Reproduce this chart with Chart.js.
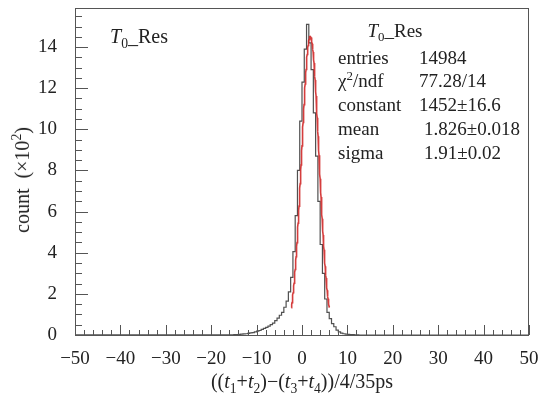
<!DOCTYPE html>
<html>
<head>
<meta charset="utf-8">
<script src="https://cdn.jsdelivr.net/npm/chart.js@4.4.1/dist/chart.umd.min.js"></script>
<style>
  html, body { margin: 0; padding: 0; background: #fff; }
  #wrap { position: relative; width: 541px; height: 398px; font-family: 'Liberation Serif', 'Times New Roman', serif; color: #222; }
  #chart { position: absolute; left: 0; top: 0; }
  .txt { position: absolute; font-size: 19px; line-height: 1; white-space: nowrap; }
  .txt sub, .txt sup { font-size: 68%; line-height: 0; }
  .c { transform: translate(-50%, -50%); }
  #ytitle { transform: translate(-50%, -50%) rotate(-90deg); }
</style>
</head>
<body>
<div id="wrap">
  <canvas id="chart" width="541" height="398"></canvas>

  <div class="txt" style="left:110px; top:26px; font-size:20px;"><i>T</i><sub>0</sub>_Res</div>

  <!-- fit statistics -->
  <div class="txt c" style="left:395px; top:30px;"><i>T</i><sub>0</sub>_Res</div>
  <div class="txt" style="left:338px; top:48px;">entries</div>
  <div class="txt" style="left:419px; top:48px;" id="st-entries"></div>
  <div class="txt" style="left:338px; top:71px;">χ<sup>2</sup>/ndf</div>
  <div class="txt" style="left:419px; top:71px;" id="st-chi2"></div>
  <div class="txt" style="left:338px; top:95px;">constant</div>
  <div class="txt" style="left:419px; top:95px;" id="st-const"></div>
  <div class="txt" style="left:338px; top:119px;">mean</div>
  <div class="txt" style="left:424px; top:119px;" id="st-mean"></div>
  <div class="txt" style="left:338px; top:143px;">sigma</div>
  <div class="txt" style="left:424px; top:143px;" id="st-sigma"></div>

  <div class="txt c" style="left:302px; top:381px; font-size:20px;">((<i>t</i><sub>1</sub>+<i>t</i><sub>2</sub>)−(<i>t</i><sub>3</sub>+<i>t</i><sub>4</sub>))/4/35ps</div>
  <div class="txt" id="ytitle" style="left:22px; top:180px; font-size:20px;">count&nbsp; (×10<sup>2</sup>)</div>
</div>

<script>
// histogram: 0.5 wide bins, first bin starts at -15, everything else is empty
const binLow = -15;
const binWidth = 0.5;
const counts = [
  // -15.0 .. -10.5
  1, 2, 2, 3, 4, 5, 6, 8, 10, 12,
  // -10.0 .. -5.5
  15, 19, 22, 27, 32, 37, 43, 50, 58, 70,
  // -5.0 .. -0.5
  82, 96, 110, 135, 165, 210, 280, 405, 580, 800,
  // 0.0 .. 4.5
  1040, 1230, 1390, 1510, 1420, 1290, 1080, 870, 650, 440,
  // 5.0 .. 9.5
  300, 175, 110, 80, 55, 40, 24, 15, 9, 6,
  // 10.0 .. 12.5
  4, 3, 2, 2, 1, 1
];

// gaussian fit result
const fitConstant = 1452;
const fitConstantErr = 16.6;
const fitMean = 1.826;
const fitMeanErr = 0.018;
const fitSigma = 1.91;
const fitSigmaErr = 0.02;
const fitChi2 = 77.28;
const fitNdf = 14;
const fitRange = [-2.35, 6.0];
const entries = 14984;

// axis ranges and labelled ticks
const xRange = [-50, 50];
const yMax = 1590;
const yTickValues = [0, 200, 400, 600, 800, 1000, 1200, 1400];

document.getElementById('st-entries').textContent = entries;
document.getElementById('st-chi2').textContent = fitChi2.toFixed(2) + '/' + fitNdf;
document.getElementById('st-const').textContent = fitConstant + '±' + fitConstantErr;
document.getElementById('st-mean').textContent = fitMean.toFixed(3) + '±' + fitMeanErr.toFixed(3);
document.getElementById('st-sigma').textContent = fitSigma.toFixed(2) + '±' + fitSigmaErr.toFixed(2);

// step outline, one point per bin low edge
const histPoints = [{ x: xRange[0], y: 0 }];
counts.forEach((c, i) => histPoints.push({ x: binLow + i * binWidth, y: c }));
histPoints.push({ x: binLow + counts.length * binWidth, y: 0 });
histPoints.push({ x: xRange[1], y: 0 });

const fitPoints = [];
for (let x = fitRange[0]; x <= fitRange[1] + 1e-9; x += 0.05) {
  const z = (x - fitMean) / fitSigma;
  fitPoints.push({ x: x, y: fitConstant * Math.exp(-0.5 * z * z) });
}

const serif = 'Liberation Serif';

// box around the pad + inward ticks on bottom and left (ROOT style)
const rootFrame = {
  id: 'rootFrame',
  afterDatasetsDraw(chart) {
    const { ctx, chartArea: a, scales } = chart;
    const sx = scales.x, sy = scales.y;
    ctx.save();
    ctx.strokeStyle = '#555';
    ctx.lineWidth = 1;
    ctx.strokeRect(a.left + 0.5, a.top + 0.5, a.right - a.left - 1, a.bottom - a.top);
    ctx.beginPath();
    for (let v = xRange[0]; v <= xRange[1]; v += 2) {
      const px = Math.round(sx.getPixelForValue(v)) + 0.5;
      const len = v % 10 === 0 ? 10 : 5;
      ctx.moveTo(px, a.bottom);
      ctx.lineTo(px, a.bottom - len);
    }
    for (let v = 0; v <= yMax; v += 50) {
      const py = Math.round(sy.getPixelForValue(v)) + 0.5;
      const len = v % 200 === 0 ? 13 : 7;
      ctx.moveTo(a.left, py);
      ctx.lineTo(a.left + len, py);
    }
    ctx.stroke();
    ctx.restore();
  }
};

new Chart(document.getElementById('chart'), {
  type: 'line',
  data: {
    datasets: [{
      label: 'fit',
      data: fitPoints,
      borderColor: 'rgba(208, 40, 40, 0.9)',
      borderWidth: 1.6,
      pointRadius: 0,
      tension: 0,
      order: 0
    }, {
      label: 'T0_Res',
      data: histPoints,
      stepped: 'after',
      borderColor: '#505050',
      borderWidth: 1.2,
      pointRadius: 0,
      order: 1
    }]
  },
  options: {
    responsive: false,
    animation: false,
    layout: { padding: { top: 8, right: 12, left: 0, bottom: 0 } },
    plugins: { legend: { display: false }, tooltip: { enabled: false } },
    scales: {
      x: {
        type: 'linear',
        min: xRange[0],
        max: xRange[1],
        grid: { display: false, drawTicks: false },
        border: { display: false },
        ticks: {
          stepSize: 10,
          padding: 13,
          maxRotation: 0,
          autoSkip: false,
          color: '#222',
          font: { family: serif, size: 19 },
          callback: (v) => String(v).replace('-', '\u2212')
        },
        afterFit(s) {
          s.height = 63;
          s.paddingLeft = 0;
          s.paddingRight = 0;
        }
      },
      y: {
        type: 'linear',
        min: 0,
        max: yMax,
        grid: { display: false, drawTicks: false },
        border: { display: false },
        afterBuildTicks(s) { s.ticks = yTickValues.map((v) => ({ value: v })); },
        ticks: {
          autoSkip: false,
          padding: 18,
          color: '#222',
          font: { family: serif, size: 19 },
          callback: (v) => String(v / 100)
        },
        afterFit(s) {
          s.width = 75;
          s.paddingTop = 0;
          s.paddingBottom = 0;
        }
      }
    }
  },
  plugins: [rootFrame]
});
</script>
</body>
</html>
